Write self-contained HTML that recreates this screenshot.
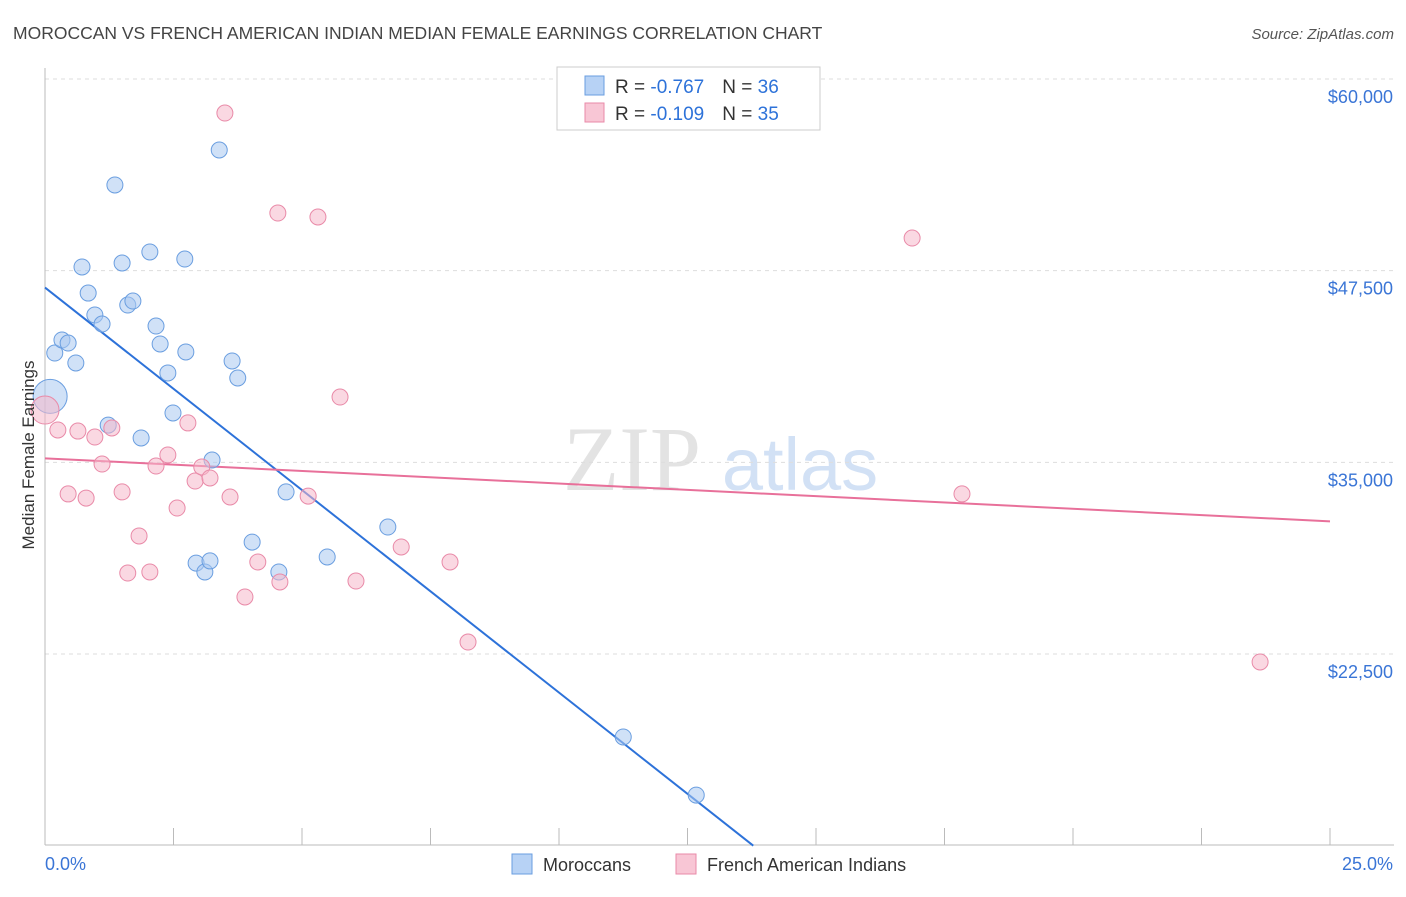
<!DOCTYPE html>
<html><head><meta charset="utf-8"><style>
body{margin:0;background:#fff;font-family:"Liberation Sans",sans-serif;}
</style></head><body>
<svg width="1406" height="892" xmlns="http://www.w3.org/2000/svg" id="chart" font-family="Liberation Sans, sans-serif">
<text x="13" y="39" font-size="17.5" fill="#444">MOROCCAN VS FRENCH AMERICAN INDIAN MEDIAN FEMALE EARNINGS CORRELATION CHART</text>
<text x="1394" y="39" font-size="15" fill="#555" font-style="italic" text-anchor="end">Source: ZipAtlas.com</text>
<g><text x="632" y="490" font-size="92" fill="#ddd" font-family="Liberation Serif, serif" text-anchor="middle" opacity="0.8">ZIP</text><text x="800" y="490" font-size="74" fill="#c8daf3" text-anchor="middle" opacity="0.8">atlas</text></g>
<g id="grid"></g><g id="axes"></g><g id="lines"></g><g id="pts"></g>
<text x="-455" y="34" transform="rotate(-90)" font-size="17" fill="#333" text-anchor="middle">Median Female Earnings</text>
<g>
<rect x="557" y="67" width="263" height="63" fill="#fff" stroke="#ccc"/>
<rect x="585" y="76" width="19" height="19" fill="#b7d2f5" stroke="#6a9ee0"/>
<text x="615" y="93" font-size="19" fill="#333">R = <tspan fill="#2d72d9">-0.767</tspan><tspan dx="18">N = </tspan><tspan fill="#2d72d9">36</tspan></text>
<rect x="585" y="103" width="19" height="19" fill="#f8c6d5" stroke="#e98aa8"/>
<text x="615" y="120" font-size="19" fill="#333">R = <tspan fill="#2d72d9">-0.109</tspan><tspan dx="18">N = </tspan><tspan fill="#2d72d9">35</tspan></text>
</g>
<g>
<rect x="512" y="854" width="20" height="20" fill="#b7d2f5" stroke="#6a9ee0"/>
<text x="543" y="871" font-size="18" fill="#333">Moroccans</text>
<rect x="676" y="854" width="20" height="20" fill="#f8c6d5" stroke="#e98aa8"/>
<text x="707" y="871" font-size="18" fill="#333">French American Indians</text>
</g>
</svg>
<script>
const yTicks=[60000,47500,35000,22500];
const yTickLabels=["$60,000","$47,500","$35,000","$22,500"];
const xTicks=[0,2.5,5,7.5,10,12.5,15,17.5,20,22.5,25];
const xEndLabels=["0.0%","25.0%"];
const blueX=[0.10,0.19,0.33,0.45,0.60,0.72,0.84,0.97,1.11,1.23,1.36,1.50,1.61,1.71,1.87,2.04,2.16,2.24,2.39,2.49,2.72,2.74,3.25,3.39,3.64,3.75,2.94,3.11,3.21,4.03,4.55,4.69,5.49,6.67,11.25,12.67];
const blueY=[39300,42130,42980,42780,41480,47740,46040,44610,44020,37430,53090,48000,45260,45520,36590,48720,43890,42720,40830,38220,48260,42200,35150,55370,41610,40500,28430,27850,28570,29800,27850,33070,28830,30780,17090,13300];
const pinkX=[0,0.25,0.45,0.64,0.80,0.97,1.11,1.30,1.50,1.61,1.83,2.04,2.16,2.39,2.57,2.78,2.92,3.05,3.21,3.50,3.60,3.89,4.14,4.53,4.57,5.12,5.31,5.74,6.05,6.93,7.88,8.23,16.87,17.84,23.64];
const pinkY=[38410,37110,32940,37040,32670,36650,34890,37240,33070,27780,30200,27850,34760,35480,32020,37570,33780,34700,33980,57780,32740,26220,28500,51260,27200,32800,51000,39260,27260,29480,28500,23280,49630,32940,21980];
const blueTrendX=[0,13.78], blueTrendY=[46400,10000];
const pinkTrendX=[0,25], pinkTrendY=[35260,31150];
const NS="http://www.w3.org/2000/svg";
const X=v=>45+v/25*1285;
const Y=v=>79+(60000-v)/12500*191.67;
function mk(p,t,a){const e=document.createElementNS(NS,t);for(const k in a)e.setAttribute(k,a[k]);document.getElementById(p).appendChild(e);return e;}
yTicks.forEach((t,i)=>{
 const l=mk('grid','line',{x1:45,x2:1394,y1:Y(t),y2:Y(t),stroke:'#ddd','stroke-dasharray':'4,4'});
 
 
 const tx=mk('grid','text',{x:1393,y:Y(t)+24,'font-size':18,fill:'#3a75d6','text-anchor':'end'});
 tx.textContent=yTickLabels[i];
 
 
});
const ax=mk('axes','line',{x1:45,x2:1394,y1:845,y2:845,stroke:'#bbb'});


const ay=mk('axes','line',{x1:45,x2:45,y1:68,y2:845,stroke:'#bbb'});


xTicks.forEach(t=>{
 const l=mk('axes','line',{x1:X(t),x2:X(t),y1:828,y2:845,stroke:'#bbb'});
 
 
});
const xl0=mk('axes','text',{x:45,y:870,'font-size':18,fill:'#3a75d6'});xl0.textContent=xEndLabels[0];


const xl1=mk('axes','text',{x:1393,y:870,'font-size':18,fill:'#3a75d6','text-anchor':'end'});xl1.textContent=xEndLabels[1];


function pts(xs,ys,fill,stroke,name,bigIdx,bigR){
 xs.forEach((x,i)=>{
  const c=mk('pts','circle',{cx:X(x),cy:Y(ys[i]),r:i===bigIdx?bigR:8,fill:fill,'fill-opacity':0.55,stroke:stroke,'stroke-width':1});
  
  
 });
}
pts(blueX,blueY,'#a9c8f0','#6a9ee0','moroccan-point',0,17);
pts(pinkX,pinkY,'#f5b8cb','#e98aa8','french-american-indian-point',0,14);
const bl=mk('lines','line',{x1:X(blueTrendX[0]),y1:Y(blueTrendY[0]),x2:X(blueTrendX[1]),y2:Y(blueTrendY[1]),stroke:'#2d72d9','stroke-width':2});


const pl=mk('lines','line',{x1:X(pinkTrendX[0]),y1:Y(pinkTrendY[0]),x2:X(pinkTrendX[1]),y2:Y(pinkTrendY[1]),stroke:'#e8709a','stroke-width':2});


</script>
</body></html>
